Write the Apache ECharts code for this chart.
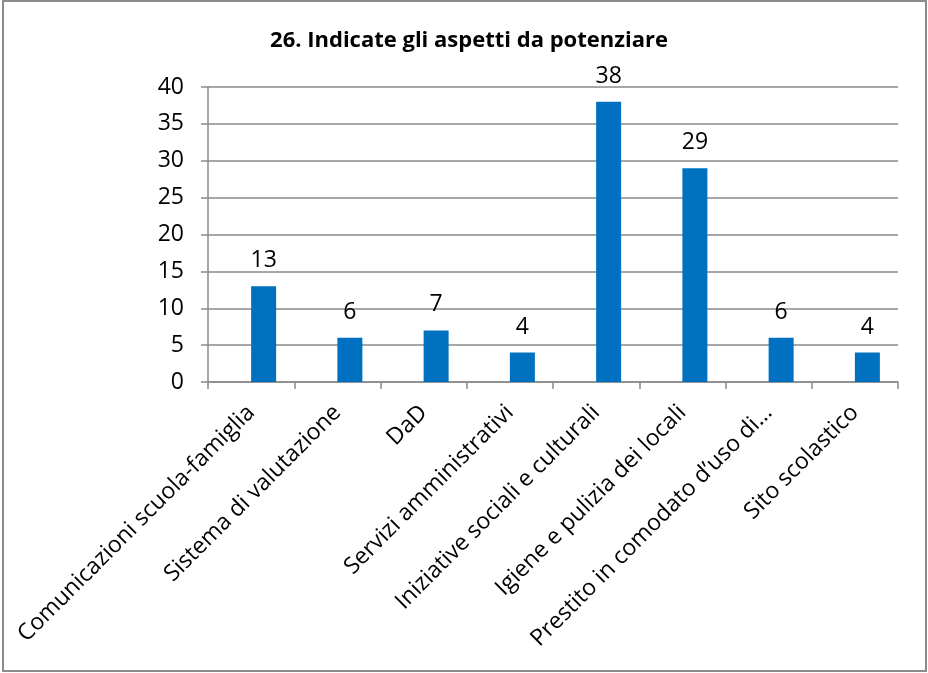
<!DOCTYPE html>
<html>
<head>
<meta charset="utf-8">
<script src="https://cdn.jsdelivr.net/npm/echarts@6/dist/echarts.min.js"></script>
<style>
html,body{margin:0;padding:0;background:#fff;}
#chart{width:928px;height:673px;}
</style>
</head>
<body>
<div id="chart"></div>
<script>
const titleText = "26. Indicate gli aspetti da potenziare";
const categories = [
  "Comunicazioni scuola-famiglia",
  "Sistema di valutazione",
  "DaD",
  "Servizi amministrativi",
  "Iniziative sociali e culturali",
  "Igiene e pulizia dei locali",
  "Prestito in comodato d\u2019uso di\u2026",
  "Sito scolastico"
];
const values = [13, 6, 7, 4, 38, 29, 6, 4];
const emptySeries = [null, null, null, null, null, null, null, null];
const yTicks = [0, 5, 10, 15, 20, 25, 30, 35, 40];

const FONT = "'Open Sans', 'Noto Sans', sans-serif";
const chart = echarts.init(document.getElementById('chart'), null, {renderer: 'canvas'});
chart.setOption({
  animation: false,
  backgroundColor: '#ffffff',
  title: {
    text: titleText,
    left: 464, top: 25, textAlign: 'center',
    textStyle: {fontFamily: FONT, fontWeight: 'bold', fontSize: 22, color: '#000'}
  },
  graphic: [{
    type: 'rect',
    shape: {x: 3, y: 1, width: 923, height: 670},
    style: {fill: 'none', stroke: '#8c8c8c', lineWidth: 2},
    silent: true
  }],
  grid: {left: 208, right: 30, top: 87, bottom: 291, containLabel: false},
  xAxis: {
    type: 'category',
    data: categories,
    axisLine: {show: true, lineStyle: {color: '#8a8a8a', width: 1.5}},
    axisTick: {show: true, alignWithLabel: false, length: 7, lineStyle: {color: '#8a8a8a', width: 1.5}},
    axisLabel: {
      interval: 0, rotate: 45, margin: 27,
      fontFamily: FONT, fontSize: 23, color: '#000'
    }
  },
  yAxis: {
    type: 'value',
    min: yTicks[0], max: yTicks[yTicks.length - 1], interval: 5,
    axisLine: {show: true, lineStyle: {color: '#8a8a8a', width: 1.5}},
    axisTick: {show: true, length: 7, lineStyle: {color: '#8a8a8a', width: 1.5}},
    splitLine: {show: true, lineStyle: {color: '#8a8a8a', width: 1.5}},
    axisLabel: {fontFamily: FONT, fontSize: 23, color: '#000', margin: 24}
  },
  series: [{
    type: 'bar',
    data: emptySeries,
    barWidth: 25,
    barGap: '0%',
    itemStyle: {color: '#0070C0'}
  }, {
    type: 'bar',
    data: values,
    barWidth: 25,
    barGap: '0%',
    itemStyle: {color: '#0070C0'},
    label: {
      show: true, position: 'top', distance: 14,
      fontFamily: FONT, fontSize: 23, color: '#000'
    }
  }]
});
</script>
</body>
</html>
